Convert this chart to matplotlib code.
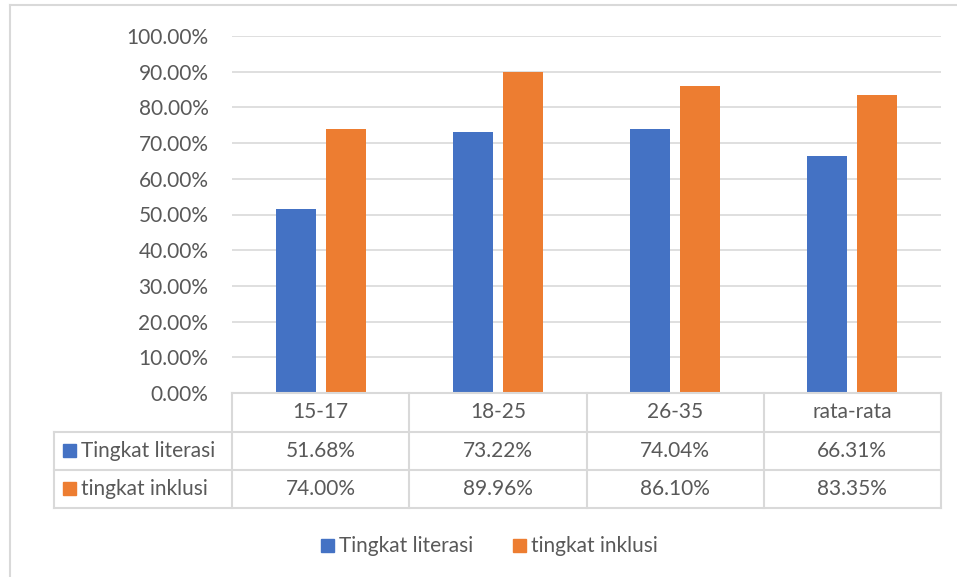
import numpy as np
import matplotlib.pyplot as plt
from matplotlib.lines import Line2D
from matplotlib.patches import Rectangle

plt.rcParams['font.family'] = ['Lato', 'DejaVu Sans']

categories = ['15-17', '18-25', '26-35', 'rata-rata']
series_names = ['Tingkat literasi', 'tingkat inklusi']
literasi = [0.5168, 0.7322, 0.7404, 0.6631]
inklusi = [0.7400, 0.8996, 0.8610, 0.8335]
yticks = [0.0, 0.1, 0.2, 0.3, 0.4, 0.5, 0.6, 0.7, 0.8, 0.9, 1.0]

colors = ['#4472c4', '#ed7d31']
text_col = '#595959'
line_col = '#d9d9d9'
fs = 15

W, H = 957, 577
fig = plt.figure(figsize=(W / 100, H / 100), dpi=100)


def fx(x):
    return x / W


def fy(y):
    return 1 - y / H


# chart frame
fig.add_artist(Line2D([fx(10), fx(10)], [fy(5), fy(H)], color=line_col, lw=1.5))
fig.add_artist(Line2D([fx(10), fx(W)], [fy(5), fy(5)], color=line_col, lw=1.5))

# plot area
left, right, top, bottom = 232, 941, 36, 393
ax = fig.add_axes([fx(left), fy(bottom), fx(right - left), (bottom - top) / H])
x = np.arange(len(categories))
bw = 40 / 177.25
gap = 10 / 177.25
ax.bar(x - (bw + gap) / 2, literasi, bw, color=colors[0], zorder=3)
ax.bar(x + (bw + gap) / 2, inklusi, bw, color=colors[1], zorder=3)
ax.set_xlim(-0.5, len(categories) - 0.5)
ax.set_ylim(0, 1)
ax.set_yticks(yticks)
ax.set_yticklabels([f'{v * 100:.2f}%' for v in yticks], color=text_col, fontsize=fs)
ax.set_xticks([])
ax.yaxis.grid(True, color=line_col, lw=1.2, zorder=0)
ax.tick_params(axis='y', length=0, pad=17)
for s in ax.spines.values():
    s.set_visible(False)

# data table
rows_y = [393, 432, 470, 508]
col_w = (right - left) / len(categories)
label_left = 54
# horizontal lines
fig.add_artist(Line2D([fx(left), fx(right)], [fy(rows_y[0]), fy(rows_y[0])], color=line_col, lw=1.5))
for yy in rows_y[1:]:
    fig.add_artist(Line2D([fx(label_left), fx(right)], [fy(yy), fy(yy)], color=line_col, lw=1.5))
# vertical lines
fig.add_artist(Line2D([fx(label_left), fx(label_left)], [fy(rows_y[1]), fy(rows_y[3])], color=line_col, lw=1.5))
for i in range(len(categories) + 1):
    xx = left + i * col_w
    fig.add_artist(Line2D([fx(xx), fx(xx)], [fy(rows_y[0]), fy(rows_y[3])], color=line_col, lw=1.5))

for i, c in enumerate(categories):
    cx = left + (i + 0.5) * col_w
    fig.text(fx(cx), fy((rows_y[0] + rows_y[1]) / 2), c, ha='center', va='center',
             color=text_col, fontsize=fs)
    for r, vals in enumerate([literasi, inklusi]):
        cy = (rows_y[r + 1] + rows_y[r + 2]) / 2
        fig.text(fx(cx), fy(cy), f'{vals[i] * 100:.2f}%', ha='center', va='center',
                 color=text_col, fontsize=fs)

for r, name in enumerate(series_names):
    cy = (rows_y[r + 1] + rows_y[r + 2]) / 2
    fig.add_artist(Rectangle((fx(63), fy(cy + 6)), fx(13), 13 / H, color=colors[r]))
    fig.text(fx(81), fy(cy), name, ha='left', va='center', color=text_col, fontsize=fs)

# legend
leg_y = 546
leg_items = [(321, 339), (513, 531)]
for (sx, tx), name, col in zip(leg_items, series_names, colors):
    fig.add_artist(Rectangle((fx(sx), fy(leg_y + 6)), fx(13), 13 / H, color=col))
    fig.text(fx(tx), fy(leg_y), name, ha='left', va='center', color=text_col, fontsize=fs)

fig.savefig('out.png', dpi=100)
